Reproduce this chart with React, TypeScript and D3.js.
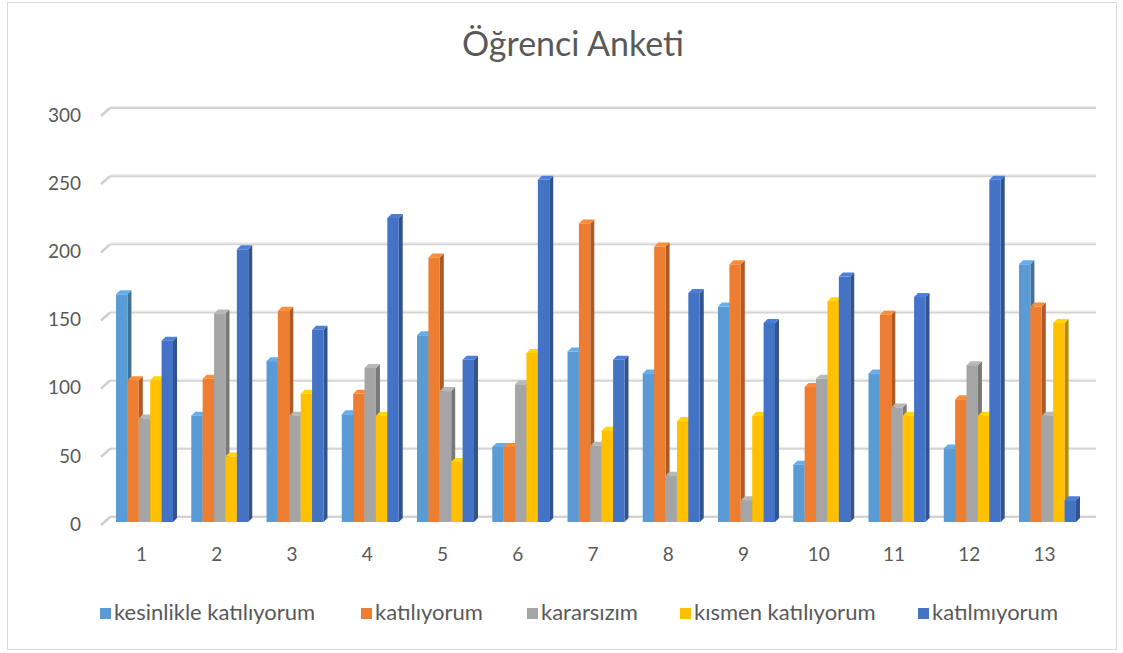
import React from "react";
import * as d3 from "d3";

const categories = ["1","2","3","4","5","6","7","8","9","10","11","12","13"];
const seriesNames = ["kesinlikle katılıyorum","katılıyorum","kararsızım","kısmen katılıyorum","katılmıyorum"];
const seriesColors = ["#5B9BD5","#ED7D31","#A5A5A5","#FFC000","#4472C4"];
const kesinlikle = [167,78,118,79,137,55,125,109,158,42,109,54,189];
const katiliyorum = [104,105,155,94,194,55,219,202,189,99,152,90,158];
const kararsizim = [76,153,78,113,96,101,56,34,16,105,84,115,78];
const kismen = [104,48,94,78,44,124,67,74,78,162,78,78,146];
const katilmiyorum = [133,200,141,223,119,251,119,168,146,180,165,251,16];
const yTicks = [0,50,100,150,200,250,300];
const title = "Öğrenci Anketi";

const seriesValues = [kesinlikle, katiliyorum, kararsizim, kismen, katilmiyorum];

const FONT = "Lato, 'Open Sans', sans-serif";
const TXT = "#595959";

export default function App() {
  const W = 1123, H = 653;
  const x = d3.scaleBand<string>().domain(categories).range([107, 1085]).paddingInner(0.243).paddingOuter(0.12);
  const xs = d3.scaleBand<string>().domain(seriesNames).range([0, x.bandwidth()]);
  const yG = d3.scaleLinear().domain([0, 300]).range([517, 108]);
  const yB = d3.scaleLinear().domain([0, 300]).range([522, 113]);
  const dx = 4, dy = 4;
  const legendX = [100, 361, 527, 680, 918];

  return (
    <svg width={W} height={H} style={{ position: "absolute", left: 0, top: 0, background: "#fff" }}>
      <rect x={7.5} y={2.5} width={1109} height={647} fill="#fff" stroke="#d9d9d9" />
      <text x={573} y={47} textAnchor="middle" dominantBaseline="middle" fontFamily={FONT} fontSize={34} fill={TXT}>{title}</text>
      {yTicks.map(t => (
        <g key={t}>
          <line x1={110} x2={1096} y1={yG(t)} y2={yG(t)} stroke="#d4d4d4" strokeWidth={2} />
          <line x1={110} x2={1096} y1={yG(t) - 1.5} y2={yG(t) - 1.5} stroke="#ececec" strokeWidth={1} />
          <line x1={101} x2={110} y1={yG(t) + 8} y2={yG(t)} stroke="#cfcfcf" strokeWidth={2.5} />
          <text x={81} y={yG(t) + 9} textAnchor="end" dominantBaseline="middle" fontFamily={FONT} fontSize={19} fill={TXT}>{t}</text>
        </g>
      ))}
      {categories.map((c, i) => (
        <g key={c}>
          {seriesNames.map((s, j) => {
            const v = seriesValues[j][i];
            const x0 = (x(c) as number) + (xs(s) as number);
            const w = xs.bandwidth();
            const yt = yB(v), yb = yB(0);
            const col = d3.color(seriesColors[j])!;
            const dark = col.darker(0.9).toString();
            const light = col.brighter(0.3).toString();
            return (
              <g key={s}>
                <path d={`M${x0 + w},${yb} L${x0 + w + dx},${yb - dy} L${x0 + w + dx},${yt - dy} L${x0 + w},${yt} Z`} fill={dark} />
                <path d={`M${x0},${yt} L${x0 + dx},${yt - dy} L${x0 + w + dx},${yt - dy} L${x0 + w},${yt} Z`} fill={light} />
                <rect x={x0} y={yt} width={w} height={yb - yt} fill={seriesColors[j]} />
              </g>
            );
          })}
          <text x={(x(c) as number) + x.bandwidth() / 2 - 3} y={556} textAnchor="middle" dominantBaseline="middle" fontFamily={FONT} fontSize={19} fill={TXT}>{c}</text>
        </g>
      ))}
      {seriesNames.map((s, j) => (
        <g key={s}>
          <rect x={legendX[j]} y={608} width={11} height={11} fill={seriesColors[j]} />
          <text x={legendX[j] + 14} y={614} dominantBaseline="middle" fontFamily={FONT} fontSize={22} fill={TXT}>{s}</text>
        </g>
      ))}
    </svg>
  );
}
